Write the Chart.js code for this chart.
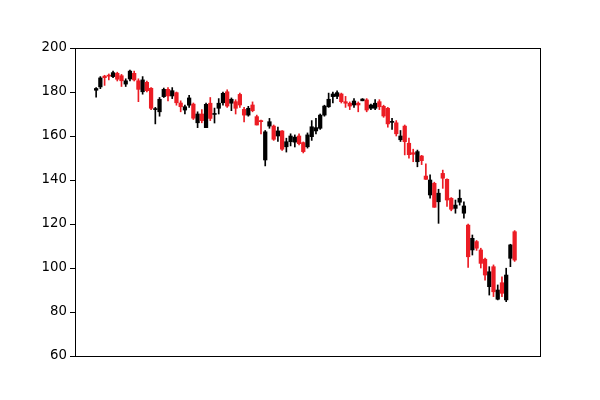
<!DOCTYPE html>
<html>
<head>
<meta charset="utf-8">
<script src="https://cdn.jsdelivr.net/npm/chart.js@4/dist/chart.umd.min.js"></script>
<style>
  html, body { margin: 0; padding: 0; background: #fff; }
  canvas { display: block; }
</style>
</head>
<body>
<canvas id="c" width="600" height="400"></canvas>
<script>
// Candle series (one entry per trading day, index 0..99)
const opens = [
  180.8,182.3,187.2,187.6,187.0,188.5,187.4,183.6,185.9,188.5,
  185.1,180.1,184.4,181.7,172.0,171.0,177.9,181.2,178.2,179.7,
  175.0,171.8,174.0,174.5,166.0,170.0,163.8,174.9,169.8,172.6,
  175.1,180.1,174.9,175.6,178.9,172.1,169.5,174.1,168.8,167.0,
  149.1,164.5,164.5,160.0,162.3,155.1,157.4,157.2,160.0,157.0,
  155.1,159.7,162.3,163.5,169.5,173.3,177.9,178.0,179.1,175.6,
  174.9,174.1,174.9,176.0,176.4,172.6,172.6,175.6,173.5,172.6,
  166.2,166.0,158.3,164.5,156.7,152.4,148.3,150.9,141.8,133.2,
  138.5,130.1,143.0,140.3,131.7,127.1,129.9,124.9,119.5,108.2,
  112.0,108.2,104.0,91.5,100.6,85.8,93.3,85.5,104.4,116.5
];
const highs = [
  182.0,187.0,187.6,188.2,189.5,189.0,188.0,186.0,190.0,189.5,
  186.0,187.0,185.0,182.0,173.0,177.5,181.8,182.0,182.0,180.0,
  176.0,174.0,178.5,175.0,171.0,172.0,175.0,177.5,172.7,177.0,
  180.0,181.0,177.3,176.5,179.5,173.0,173.5,175.5,169.5,167.2,
  162.5,168.0,165.0,164.0,162.5,159.0,161.0,160.5,161.0,157.3,
  161.4,167.0,168.0,170.0,174.0,179.5,180.0,180.5,179.5,178.0,
  175.5,177.0,175.5,177.0,177.0,174.5,176.5,176.5,174.0,173.0,
  168.0,167.0,162.5,165.0,159.0,154.0,153.6,151.2,147.3,142.3,
  139.0,135.8,144.5,140.5,132.0,130.9,135.5,130.1,120.0,115.0,
  112.5,109.0,104.5,100.6,101.4,92.3,96.0,99.9,110.8,117.0
];
const lows = [
  177.7,181.5,183.0,185.5,186.5,185.0,182.5,182.5,185.0,185.0,
  175.6,179.0,180.0,172.0,165.5,169.0,177.5,176.0,177.0,174.0,
  171.0,170.0,173.0,167.5,163.8,166.0,163.8,167.0,165.9,170.0,
  174.0,173.0,171.5,170.0,173.0,166.4,169.0,171.0,165.0,160.9,
  146.4,163.5,158.0,157.5,153.5,152.7,155.5,155.0,156.0,152.3,
  154.5,158.0,161.0,163.0,169.0,173.0,175.0,177.0,175.0,173.0,
  172.0,173.0,171.0,176.0,171.0,172.0,172.0,172.0,168.5,164.0,
  163.0,160.0,157.5,151.4,149.9,148.3,146.0,147.0,140.3,131.7,
  127.6,120.3,136.2,128.0,126.0,124.9,128.6,122.6,100.3,105.9,
  108.0,100.0,94.5,87.7,87.0,85.5,87.0,84.7,100.6,103.0
];
const closes = [
  181.6,186.4,186.5,187.2,188.8,185.8,185.1,185.1,189.5,185.5,
  181.2,185.5,180.6,172.6,172.4,176.7,181.2,178.2,180.6,175.1,
  173.3,173.3,177.3,168.1,170.0,167.0,174.4,168.0,170.1,174.9,
  179.4,173.6,176.7,172.6,174.1,169.5,172.6,171.5,165.0,166.5,
  161.9,166.5,158.5,162.3,154.0,157.4,160.0,159.5,156.5,152.9,
  160.5,164.2,163.8,169.5,173.6,176.7,179.1,179.7,175.6,174.9,
  173.6,175.9,174.1,176.8,171.8,174.1,174.9,173.3,169.1,165.5,
  166.5,161.0,160.0,157.4,151.5,151.7,152.9,148.8,140.3,140.0,
  127.6,134.0,140.8,130.9,126.7,128.6,131.7,128.2,105.1,113.5,
  109.0,102.1,96.8,98.3,89.2,90.0,88.5,96.8,110.5,103.6
];
const yTicks = [60, 80, 100, 120, 140, 160, 180, 200];

const UP = '#000000';
const DOWN = '#ec1c24';

const bodies = opens.map((o, i) => ({ x: i, y: [o, closes[i]] }));
const wicks = opens.map((o, i) => ({ x: i, y: [lows[i], highs[i]] }));
const colors = opens.map((o, i) => closes[i] >= o ? UP : DOWN);

const framePlugin = {
  id: 'frame',
  afterDraw(chart) {
    const a = chart.chartArea, ctx = chart.ctx;
    ctx.save();
    ctx.strokeStyle = '#000';
    ctx.lineWidth = 1;
    ctx.strokeRect(Math.round(a.left) + 0.5, Math.round(a.top) + 0.5,
                   Math.round(a.right - a.left), Math.round(a.bottom - a.top));
    ctx.restore();
  }
};

new Chart(document.getElementById('c'), {
  type: 'bar',
  data: {
    datasets: [
      {
        label: 'body',
        data: bodies,
        backgroundColor: colors,
        borderWidth: 0,
        barThickness: 3.6,
        minBarLength: 1,
        grouped: false,
        order: 1
      },
      {
        label: 'wick',
        data: wicks,
        backgroundColor: colors,
        borderWidth: 0,
        barThickness: 1,
        grouped: false,
        order: 2
      }
    ]
  },
  plugins: [framePlugin],
  options: {
    responsive: false,
    animation: false,
    events: [],
    layout: { padding: { left: 0, right: 60, top: 48, bottom: 44 } },
    plugins: { legend: { display: false }, tooltip: { enabled: false } },
    scales: {
      x: {
        type: 'linear',
        min: -5,
        max: 105,
        offset: false,
        display: false
      },
      y: {
        type: 'linear',
        min: 60,
        max: 200,
        afterFit(scale) { scale.width = 75; },
        afterBuildTicks(scale) { scale.ticks = yTicks.map(v => ({ value: v })); },
        ticks: {
          color: '#000',
          padding: 3,
          font: { family: 'DejaVu Sans', size: 13.3 }
        },
        grid: {
          drawOnChartArea: false,
          drawTicks: true,
          tickLength: 5,
          tickColor: '#000',
          tickWidth: 1
        },
        border: { display: true, color: '#000', width: 1 }
      }
    }
  }
});
</script>
</body>
</html>
